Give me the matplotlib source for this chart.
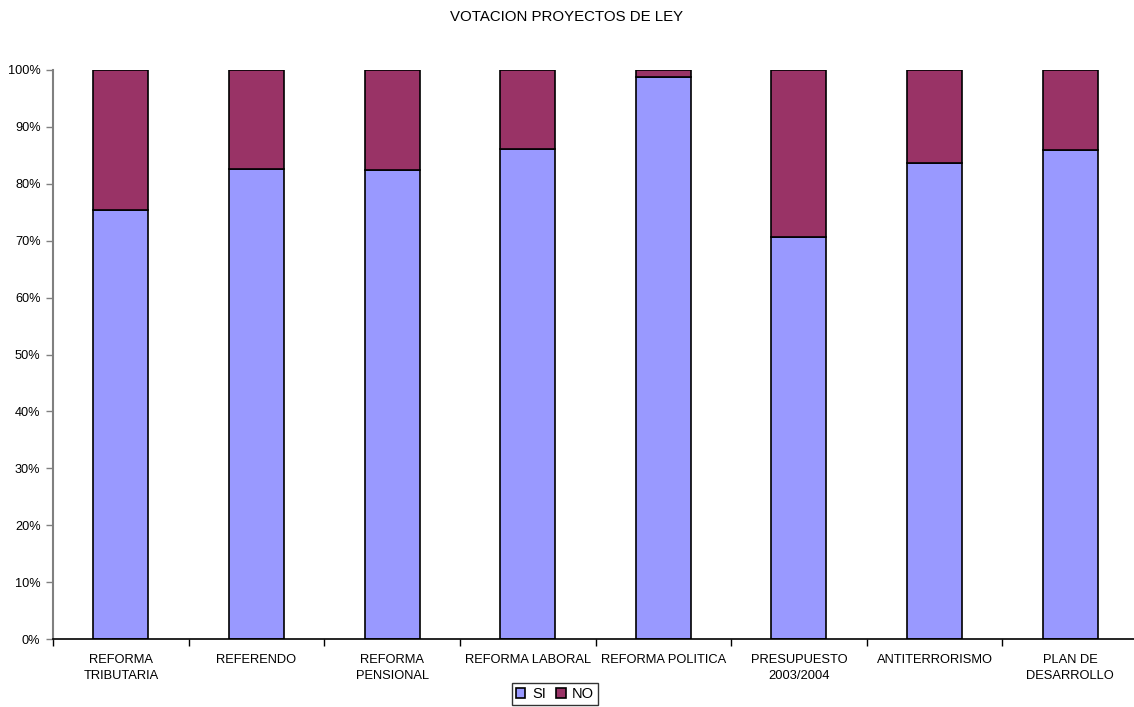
import matplotlib
matplotlib.use("Agg")
import matplotlib.pyplot as plt
import numpy as np
from matplotlib.ticker import FuncFormatter, FixedLocator

plt.rcParams['font.family'] = ['Liberation Sans', 'DejaVu Sans']

categories = ["REFORMA\nTRIBUTARIA", "REFERENDO", "REFORMA\nPENSIONAL", "REFORMA LABORAL",
              "REFORMA POLITICA", "PRESUPUESTO\n2003/2004", "ANTITERRORISMO", "PLAN DE\nDESARROLLO"]
si_pct = [75.4, 82.6, 82.4, 86.1, 98.8, 70.6, 83.6, 85.9]
no_pct = [100 - v for v in si_pct]

fig = plt.figure(figsize=(11.34, 7.07), dpi=100)
ax = fig.add_axes([53 / 1134, 1 - 639 / 707, (1138 - 53) / 1134, (639 - 70) / 707])

x = np.arange(len(categories))
w = 0.405
ax.bar(x, si_pct, width=w, color="#9999FF", edgecolor="black", linewidth=1.2, label="SI")
ax.bar(x, no_pct, width=w, bottom=si_pct, color="#993366", edgecolor="black", linewidth=1.2, label="NO")

ax.set_xlim(-0.5, len(categories) - 0.5)
ax.set_ylim(0, 100)
ax.set_yticks(np.arange(0, 101, 10))
ax.yaxis.set_major_formatter(FuncFormatter(lambda v, p: f"{int(v)}%"))
ax.tick_params(axis='y', labelsize=9.2, length=5, width=1, color="#808080", pad=4)

ax.set_xticks(x)
ax.set_xticklabels(categories, fontsize=9.3, linespacing=1.45)
ax.tick_params(axis='x', length=0, pad=11)
ax.xaxis.set_minor_locator(FixedLocator(np.arange(-0.5, len(categories), 1.0)))
ax.tick_params(axis='x', which='minor', length=5, width=1, color="black")

for s in ("top", "right"):
    ax.spines[s].set_visible(False)
ax.spines["left"].set_color("#808080")
ax.spines["left"].set_linewidth(1.5)
ax.spines["bottom"].set_color("black")
ax.spines["bottom"].set_linewidth(1.2)

fig.text(0.5, 1 - 17 / 707, "VOTACION PROYECTOS DE LEY", ha="center", va="center", fontsize=10.8)

leg = fig.legend(loc="center", bbox_to_anchor=(555 / 1134, 1 - 694 / 707), ncol=2, fontsize=10.5,
                 frameon=True, fancybox=False, edgecolor="black", handlelength=0.65, handleheight=0.65,
                 handletextpad=0.45, columnspacing=0.7, borderpad=0.3, borderaxespad=0)
leg.get_frame().set_linewidth(1.0)

fig.savefig("out.png", dpi=100, facecolor="white")
